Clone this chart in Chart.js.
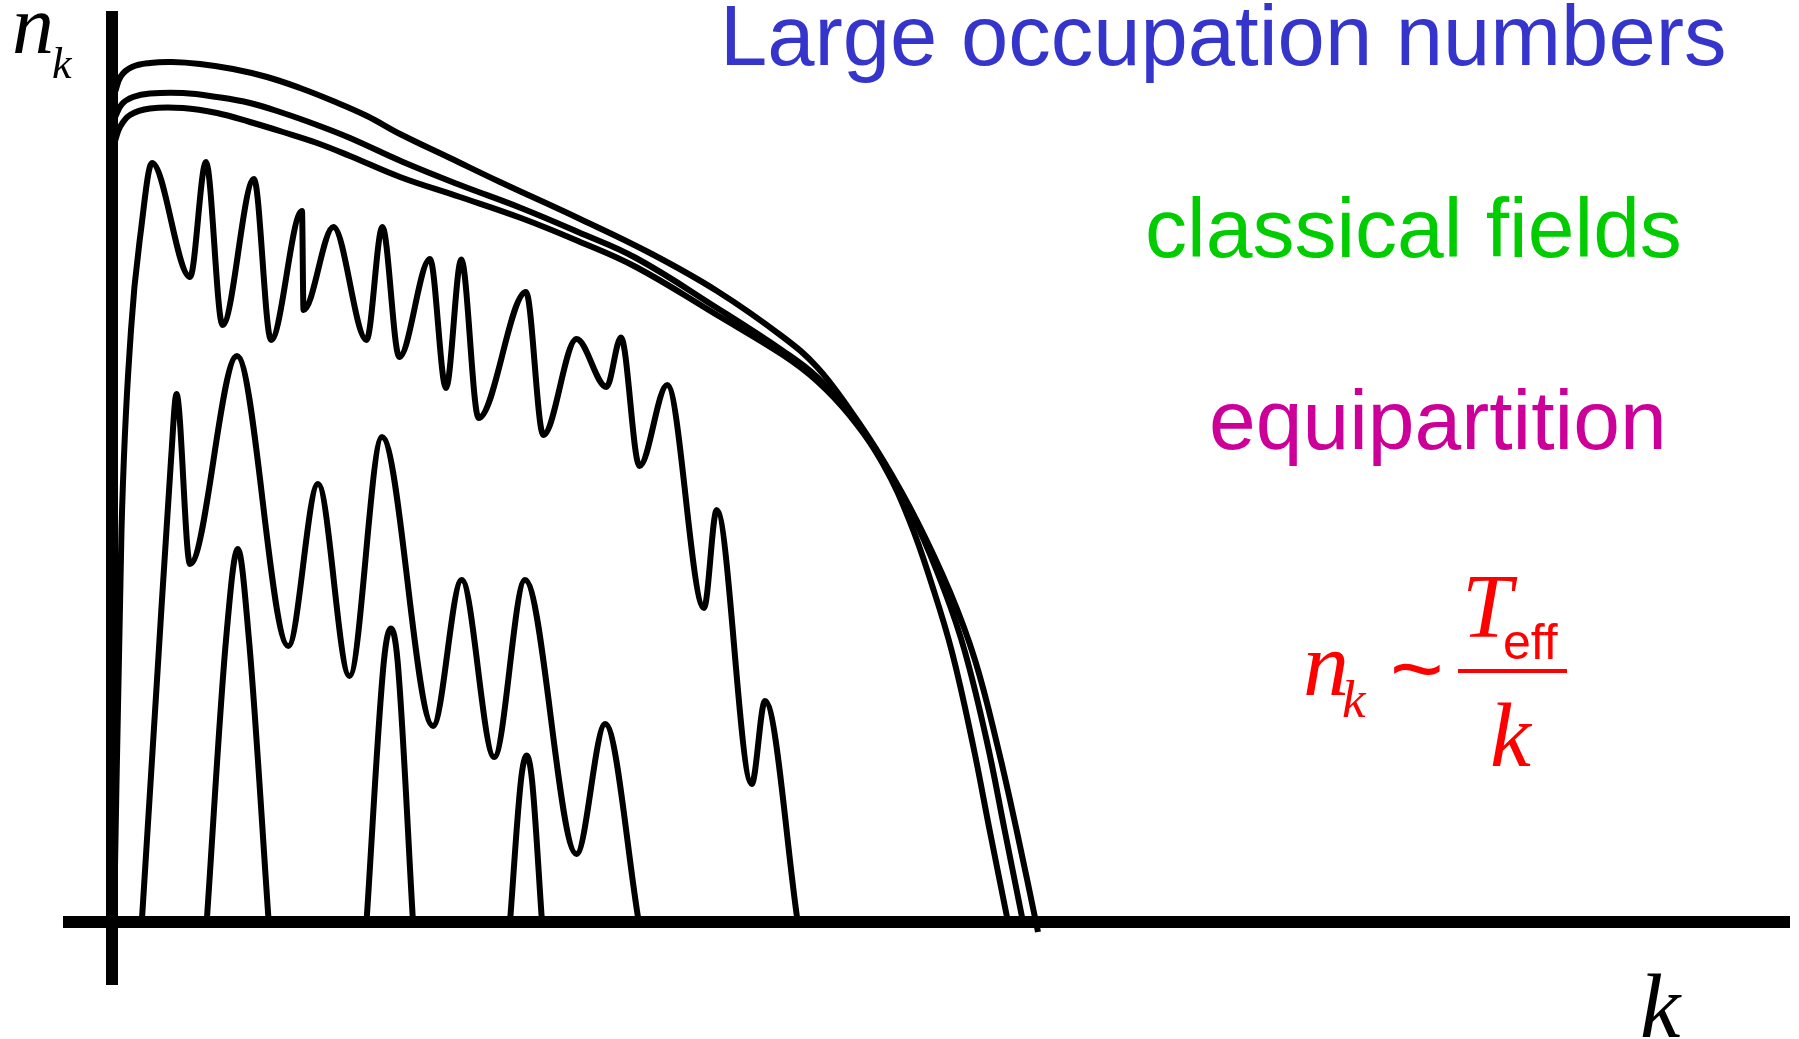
<!DOCTYPE html>
<html>
<head>
<meta charset="utf-8">
<title>Occupation numbers n_k</title>
<script src="https://cdn.jsdelivr.net/npm/chart.js@4.4.1/dist/chart.umd.min.js"></script>
<style>
    html, body { margin: 0; padding: 0; background: #fff; }
    canvas { display: block; }
</style>
</head>
<body>
<canvas id="spectrum-chart" width="1799" height="1039"></canvas>
<script>
// axis ranges (k to the right, n_k up)
const kRange = [-0.49, 16.78];
const nRange = [-0.63, 9.11];

// three smooth spectra, almost on top of each other
const kS1 = [0.03, 0.09, 0.20, 0.38, 0.60, 0.88, 1.21, 1.55, 1.88, 2.21, 2.55, 2.88, 3.38, 3.88, 4.66, 5.38, 6.05, 6.71, 7.05, 7.38, 7.71, 8.05, 8.38, 8.63, 8.86, 9.05, 9.26];
const nS1 = [8.30, 8.46, 8.55, 8.59, 8.60, 8.58, 8.53, 8.45, 8.34, 8.21, 8.06, 7.88, 7.64, 7.40, 7.04, 6.69, 6.31, 5.85, 5.55, 5.12, 4.62, 4.01, 3.30, 2.62, 1.74, 0.90, -0.10];

const kS2 = [0.03, 0.10, 0.21, 0.38, 0.71, 1.05, 1.38, 1.71, 2.05, 2.38, 2.91, 3.48, 4.09, 4.66, 5.24, 6.05, 6.71, 7.05, 7.38, 7.71, 8.05, 8.33, 8.53, 8.75, 8.93, 9.11];
const nS2 = [8.05, 8.18, 8.25, 8.285, 8.29, 8.25, 8.19, 8.09, 7.97, 7.84, 7.60, 7.37, 7.14, 6.90, 6.64, 6.14, 5.71, 5.45, 5.08, 4.60, 3.97, 3.30, 2.70, 1.80, 0.90, 0];

const kS3 = [0.03, 0.08, 0.18, 0.38, 0.71, 1.05, 1.38, 1.71, 2.05, 2.38, 2.88, 3.48, 4.09, 4.66, 5.24, 6.05, 6.71, 7.05, 7.38, 7.71, 7.98, 8.20, 8.40, 8.61, 8.78, 8.96];
const nS3 = [7.81, 7.95, 8.07, 8.135, 8.14, 8.09, 8.00, 7.90, 7.79, 7.66, 7.45, 7.25, 7.04, 6.81, 6.55, 6.07, 5.67, 5.41, 5.06, 4.58, 4.00, 3.37, 2.70, 1.77, 0.90, 0];

// oscillating spectra
const kA = [0.02, 0.095, 0.19, 0.29, 0.40, 0.78, 0.94, 1.105, 1.42, 1.59, 1.90, 1.915, 2.214, 2.545, 2.704, 2.873, 3.18, 3.34, 3.493, 3.666, 4.14, 4.313, 4.645, 4.945, 5.09, 5.275, 5.552, 5.92, 6.047, 6.397, 6.53, 6.857];
const nA = [0, 3.92, 5.92, 6.92, 7.59, 6.45, 7.60, 5.97, 7.43, 5.82, 7.11, 6.12, 6.95, 5.82, 6.95, 5.65, 6.63, 5.34, 6.625, 5.04, 6.30, 4.87, 5.83, 5.35, 5.845, 4.56, 5.37, 3.14, 4.12, 1.38, 2.21, 0];

const kB = [0.298, 0.45, 0.59, 0.645, 0.78, 1.25, 1.763, 2.06, 2.375, 2.70, 3.21, 3.497, 3.822, 4.13, 4.645, 4.932, 5.268];
const nB = [0, 2.42, 4.62, 5.28, 3.58, 5.66, 2.76, 4.38, 2.46, 4.85, 1.96, 3.42, 1.65, 3.42, 0.68, 1.98, 0];

// separate bumps, null breaks the line between them
const kD = [0.947, 1.14, 1.258, 1.37, 1.567, 2.0, 2.545, 2.72, 2.789, 2.855, 3.01, 3.5, 3.98, 4.09, 4.147, 4.20, 4.30];
const nD = [0, 2.82, 3.73, 2.82, 0, null, 0, 2.62, 2.935, 2.62, 0, null, 0, 1.42, 1.664, 1.42, 0];

// text drawn over the plot
const labelTexts = ['Large occupation numbers', 'classical fields', 'equipartition'];
const labelColors = ['#3535cc', '#00cc00', '#cc0099'];
const labelX = [720, 1145, 1209];
const labelY = [65, 257, 449];
const labelSize = [85, 84, 84];

const sansFont = '"Liberation Sans", Arial, sans-serif';
const serifFont = '"Liberation Serif", "Times New Roman", serif';

function toPoints(ks, ns) {
    return ks.map((k, i) => ({ x: k, y: ns[i] }));
}

function curve(ks, ns, smooth) {
    return {
        data: toPoints(ks, ns),
        borderColor: '#000',
        borderWidth: 6,
        pointRadius: 0,
        fill: false,
        cubicInterpolationMode: smooth ? 'default' : 'monotone',
        tension: smooth ? 0.4 : 0,
        spanGaps: false
    };
}

// only the zero line of each scale is drawn, thick, as the axis
function axisAtZero(range) {
    return {
        type: 'linear',
        min: range[0],
        max: range[1],
        ticks: { display: false },
        border: { display: false },
        grid: {
            drawTicks: false,
            color: (c) => (c.tick && c.tick.value === 0) ? '#000' : 'rgba(0,0,0,0)',
            lineWidth: 12
        },
        afterBuildTicks: (axis) => { axis.ticks = [{ value: 0 }]; }
    };
}

const textPlugin = {
    id: 'textPlugin',
    afterDraw(chart) {
        const ctx = chart.ctx;
        ctx.save();
        ctx.textBaseline = 'alphabetic';
        ctx.textAlign = 'left';

        labelTexts.forEach((t, i) => {
            ctx.font = labelSize[i] + 'px ' + sansFont;
            ctx.fillStyle = labelColors[i];
            ctx.fillText(t, labelX[i], labelY[i]);
        });

        // n_k on the vertical axis
        ctx.fillStyle = '#000';
        ctx.font = 'italic 84px ' + serifFont;
        ctx.fillText('n', 12, 53);
        ctx.font = 'italic 44px ' + serifFont;
        ctx.fillText('k', 52, 78);

        // k on the horizontal axis
        ctx.font = 'italic 91px ' + serifFont;
        ctx.fillText('k', 1640, 1037);

        // n_k ~ T_eff / k
        ctx.fillStyle = '#ff0000';
        ctx.font = 'italic 92px ' + serifFont;
        ctx.fillText('n', 1303, 695);
        ctx.font = 'italic 53px ' + serifFont;
        ctx.fillText('k', 1342, 717);
        ctx.font = '92px ' + sansFont;
        ctx.fillText('~', 1390, 700);
        ctx.font = 'italic 90px ' + serifFont;
        ctx.fillText('T', 1462, 637);
        ctx.font = '50px ' + sansFont;
        ctx.fillText('eff', 1503, 659);
        ctx.fillRect(1458, 669, 109, 4);
        ctx.font = 'italic 92px ' + serifFont;
        ctx.fillText('k', 1490, 766);

        ctx.restore();
    }
};

const spectrumChart = document.getElementById('spectrum-chart');

new Chart(spectrumChart, {
    type: 'line',
    data: {
        datasets: [
            curve(kS1, nS1, true),
            curve(kS2, nS2, true),
            curve(kS3, nS3, true),
            curve(kA, nA, false),
            curve(kB, nB, false),
            curve(kD, nD, false)
        ]
    },
    options: {
        responsive: false,
        animation: false,
        layout: {
            padding: { left: 63, right: 9, top: 11, bottom: 54 }
        },
        plugins: {
            legend: { display: false },
            tooltip: { enabled: false }
        },
        scales: {
            x: axisAtZero(kRange),
            y: axisAtZero(nRange)
        }
    },
    plugins: [textPlugin]
});
</script>
</body>
</html>
